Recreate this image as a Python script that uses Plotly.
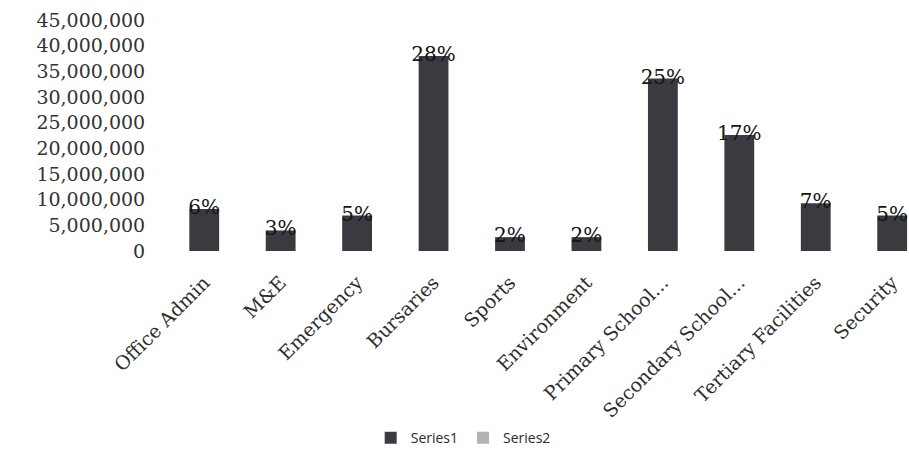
import plotly.graph_objects as go

# Budget allocation per programme area (KSh)
categories = [
    "Office Admin", "M&E", "Emergency", "Bursaries", "Sports",
    "Environment", "Primary School...", "Secondary School...",
    "Tertiary Facilities", "Security",
]
amounts = [8.2e6, 4.0e6, 6.9e6, 38.0e6, 2.7e6, 2.7e6, 33.6e6, 22.6e6, 9.3e6, 6.9e6]
y_ticks = list(range(0, 45_000_001, 5_000_000))

total = sum(amounts)
shares = [a / total for a in amounts]
share_labels = [f"{round(s * 100)}%" for s in shares]

serif = "DejaVu Serif"

fig = go.Figure()

fig.add_trace(go.Bar(
    name="Series1", x=categories, y=amounts, width=0.39,
    marker=dict(color="#3a3a40", line=dict(width=0)),
))
fig.add_trace(go.Bar(
    name="Series2", x=categories, y=shares, width=0.39,
    marker=dict(color="#9a9a9a", line=dict(width=0),
                pattern=dict(shape="x", fgcolor="#6a6a6a", bgcolor="#b8b8b8", size=3)),
))

# Share labels sit on the top of each Series1 bar
fig.add_trace(go.Scatter(
    x=categories, y=amounts, mode="text", text=share_labels,
    textposition="middle center", showlegend=False, hoverinfo="skip",
    textfont=dict(family=serif, size=20, color="#141414"),
))

fig.update_layout(
    width=909, height=455,
    margin=dict(l=166, r=0, t=20, b=204),
    paper_bgcolor="white", plot_bgcolor="white",
    barmode="overlay",
    showlegend=True,
    legend=dict(
        orientation="h", x=0.40, xanchor="center", y=-0.81, yanchor="middle",
        font=dict(family="Open Sans", size=14, color="#2a2a2a"),
        itemwidth=30, traceorder="normal",
    ),
    xaxis=dict(
        range=[-0.5, 9.22], showgrid=False, showline=False, zeroline=False,
        tickangle=-45, ticks="outside", ticklen=12, tickcolor="rgba(0,0,0,0)",
        tickfont=dict(family=serif, size=19, color="#2e2e2e"),
    ),
    yaxis=dict(
        range=[0, 45_000_000], tickvals=y_ticks,
        ticktext=[f"{v:,}" for v in y_ticks],
        showgrid=False, showline=False, zeroline=False,
        ticks="outside", ticklen=16, tickcolor="rgba(0,0,0,0)",
        tickfont=dict(family=serif, size=19, color="#333333"),
    ),
)

fig.write_html("out.html")
